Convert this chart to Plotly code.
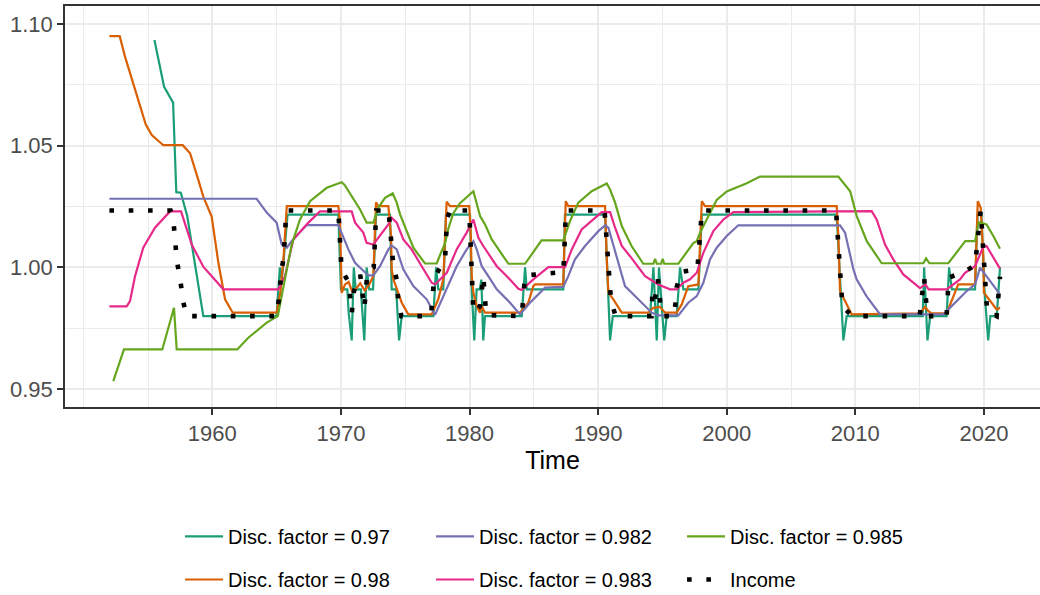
import plotly.graph_objects as go

# ---- Series: (year, value) vertices of each path ----
t_097 = [1955.5, 1956.25, 1956.95, 1957.2, 1957.55, 1958.05, 1959.3, 1965.0, 1965.25, 1965.4, 1965.5,
         1965.85, 1969.8, 1970.0, 1970.5, 1970.6, 1970.84, 1971.0, 1971.15, 1971.55, 1971.82, 1972.0,
         1972.2, 1972.5, 1972.73, 1973.82, 1973.95, 1974.3, 1974.52, 1974.73, 1977.19, 1977.4, 1977.57,
         1977.96, 1978.17, 1980.04, 1980.17, 1980.37, 1980.55, 1980.8, 1980.92, 1981.07, 1981.2, 1984.06,
         1984.32, 1984.45, 1987.29, 1987.42, 1990.54, 1990.75, 1990.93, 1991.14, 1994.04, 1994.3,
         1994.56, 1994.73, 1994.85, 1995.14, 1995.33, 1996.11, 1996.37, 1996.63, 1997.8, 1998.06,
         2008.55, 2008.94, 2009.07, 2009.33, 2015.24, 2015.35, 2015.61, 2015.82, 2017.1, 2017.29,
         2017.5, 2019.31, 2019.5, 2019.8, 2020.05, 2020.33, 2020.5, 2021.0, 2021.25]
v_097 = [1.0934, 1.0742, 1.0677, 1.0309, 1.0307, 1.0211, 0.9800, 0.9800, 1.0000, 0.9950, 1.0000,
         1.0217, 1.0217, 0.9910, 0.9910, 0.9814, 0.9700, 1.0000, 0.9910, 0.9910, 0.9700, 1.0000,
         0.9910, 0.9910, 1.0217, 1.0217, 0.9910, 0.9910, 0.9700, 0.9800, 0.9800, 1.0000, 0.9910,
         0.9910, 1.0217, 1.0217, 0.9910, 0.9700, 0.9910, 0.9910, 0.9950, 0.9700, 0.9800, 0.9800,
         1.0000, 0.9910, 0.9910, 1.0217, 1.0217, 0.9900, 0.9700, 0.9800, 0.9800, 1.0000,
         0.9700, 1.0000, 0.9923, 0.9700, 0.9800, 0.9800, 1.0000, 0.9910, 0.9910, 1.0217,
         1.0217, 0.9855, 0.9700, 0.9800, 0.9800, 1.0000, 0.9700, 0.9800, 0.9800, 1.0000,
         0.9910, 0.9910, 1.0217, 1.0217, 0.9900, 0.9700, 0.9800, 0.9800, 1.0000]

t_098 = [1952.0, 1952.8, 1953.2, 1954.12, 1954.82, 1955.29, 1956.19, 1957.7, 1958.27, 1958.9, 1959.3,
         1959.95, 1960.47, 1960.99, 1961.59, 1965.0, 1965.3, 1965.55, 1965.79, 1969.8, 1969.93, 1970.06,
         1970.32, 1970.6, 1970.85, 1971.1, 1971.5, 1971.85, 1972.2, 1972.52, 1972.73, 1972.9, 1973.69,
         1973.9, 1973.95, 1974.08, 1974.34, 1974.73, 1975.24, 1977.06, 1977.57, 1977.96, 1978.22,
         1978.48, 1979.98, 1980.1, 1980.17, 1980.3, 1980.56, 1980.82, 1980.95, 1981.2, 1983.93,
         1984.57, 1984.96, 1985.09, 1987.29, 1987.48, 1987.68, 1990.54, 1990.67, 1990.8, 1991.18,
         1991.84, 1993.9, 1994.29, 1994.81, 1995.2, 1996.11, 1996.5, 1997.01, 1997.8, 1998.06,
         1998.31, 2008.55, 2008.68, 2008.81, 2009.72, 2015.03, 2015.42, 2015.68, 2015.94, 2017.1,
         2018.0, 2019.31, 2019.52, 2019.75, 2019.95, 2020.0, 2020.47, 2020.99, 2021.25]
v_098 = [1.0950, 1.0950, 1.0868, 1.0704, 1.0588, 1.0544, 1.0502, 1.0502, 1.0469, 1.0362, 1.0291,
         1.0209, 1.0019, 0.9869, 0.9814, 0.9814, 0.9900, 1.0050, 1.0252, 1.0252, 1.0184, 0.9896,
         0.9930, 0.9940, 0.9905, 0.9907, 0.9935, 0.9905, 0.9930, 0.9964, 1.0268, 1.0252, 1.0252,
         1.0129, 0.9992, 0.9951, 0.9910, 0.9855, 0.9807, 0.9807, 0.9869, 0.9951, 1.0270,
         1.0252, 1.0252, 1.0129, 0.9964, 0.9896, 0.9841, 0.9814, 0.9840, 0.9814, 0.9814,
         0.9855, 0.9923, 0.9930, 0.9930, 1.0272, 1.0252, 1.0252, 1.0033, 0.9896, 0.9869,
         0.9814, 0.9814, 0.9834, 0.9838, 0.9814, 0.9814, 0.9848, 0.9923, 0.9930, 1.0272,
         1.0252, 1.0252, 1.0129, 0.9903, 0.9807, 0.9811, 0.9838, 0.9820, 0.9811, 0.9811,
         0.9930, 0.9930, 1.0272, 1.0245, 1.0046, 0.9896, 0.9862, 0.9827, 0.9834]

t_0982 = [1952.0, 1963.45, 1964.23, 1965.0, 1965.4, 1965.79, 1966.17, 1967.34, 1969.8, 1970.1, 1970.58,
          1971.1, 1971.62, 1972.13, 1972.52, 1973.04, 1973.69, 1973.95, 1974.34, 1974.85, 1975.63,
          1976.67, 1977.32, 1978.23, 1979.0, 1979.78, 1980.3, 1980.56, 1980.95, 1981.46, 1982.12,
          1983.15, 1983.93, 1984.7, 1985.87, 1987.29, 1987.68, 1988.2, 1988.98, 1990.02, 1990.54,
          1990.8, 1991.18, 1992.09, 1993.12, 1994.17, 1994.68, 1996.24, 1997.01, 1997.67, 1998.18,
          1998.7, 1999.22, 2000.0, 2000.9, 2008.81, 2009.2, 2009.85, 2010.11, 2010.4, 2010.89,
          2011.93, 2016.85, 2018.66, 2019.31, 2019.7, 2020.21, 2021.25]
v_0982 = [1.0282, 1.0282, 1.0225, 1.0184, 1.0094, 1.0081, 1.0108, 1.0174, 1.0174, 1.0135, 1.0074,
          1.0019, 0.9992, 0.9967, 0.9967, 1.0005, 1.0074, 1.0090, 1.0074, 0.9992, 0.9923,
          0.9869, 0.9805, 0.9910, 1.0005, 1.0074, 1.0108, 1.0074, 1.0005, 0.9964, 0.9910,
          0.9855, 0.9807, 0.9855, 0.9917, 0.9920, 0.9964, 1.0033, 1.0088, 1.0149, 1.0173,
          1.0163, 1.0094, 0.9923, 0.9869, 0.9814, 0.9803, 0.9803, 0.9855, 0.9882, 0.9937,
          1.0033, 1.0081, 1.0129, 1.0173, 1.0173, 1.0143, 0.9992, 0.9950, 0.9923, 0.9880,
          0.9807, 0.9807, 0.9903, 0.9930, 0.9999, 0.9964, 0.9889]

t_0983 = [1952.0, 1953.34, 1953.6, 1953.99, 1954.63, 1955.54, 1956.71, 1957.57, 1958.4, 1959.3, 1960.86,
          1965.13, 1965.65, 1966.3, 1967.47, 1968.37, 1970.84, 1971.1, 1971.74, 1972.0, 1972.52,
          1973.04, 1973.69, 1973.95, 1974.34, 1974.85, 1975.5, 1976.28, 1977.06, 1977.32, 1978.23,
          1979.0, 1979.78, 1980.3, 1980.69, 1981.07, 1981.6, 1982.12, 1982.9, 1983.8, 1984.06,
          1984.96, 1986.13, 1987.43, 1987.95, 1988.72, 1989.63, 1990.28, 1990.93, 1991.32, 1991.84,
          1992.48, 1993.65, 1994.68, 1995.59, 1996.11, 1996.63, 1997.15, 1997.67, 1998.18, 1998.96,
          1999.74, 2000.51, 2011.27, 2011.66, 2012.31, 2012.95, 2013.73, 2015.03, 2015.3, 2015.45,
          2015.7, 2017.1, 2018.14, 2018.53, 2019.31, 2019.95, 2020.2, 2020.86, 2021.25]
v_0983 = [0.9840, 0.9840, 0.9862, 0.9964, 1.0081, 1.0163, 1.0230, 1.0230, 1.0094, 1.0003, 0.9910,
          0.9910, 0.9964, 1.0115, 1.0184, 1.0230, 1.0230, 1.0184, 1.0143, 1.0101, 1.0094,
          1.0129, 1.0177, 1.0204, 1.0184, 1.0115, 1.0074, 1.0005, 0.9937, 0.9930, 0.9978,
          1.0074, 1.0143, 1.0197, 1.0122, 1.0088, 1.0046, 1.0005, 0.9964, 0.9912, 0.9907,
          0.9951, 1.0001, 1.0001, 1.0074, 1.0156, 1.0197, 1.0227, 1.0227, 1.0163, 1.0088,
          1.0046, 0.9964, 0.9930, 0.9910, 0.9910, 0.9937, 0.9951, 0.9978, 1.0060, 1.0149,
          1.0197, 1.0227, 1.0231, 1.0197, 1.0094, 1.0033, 0.9971, 0.9915, 0.9923, 0.9930,
          0.9910, 0.9910, 0.9951, 0.9978, 1.0005, 1.0085, 1.0088, 1.0033, 0.9995]

t_0985 = [1952.3, 1953.13, 1956.11, 1957.02, 1957.23, 1961.94, 1962.8, 1964.23, 1965.09, 1965.65,
          1966.17, 1966.82, 1967.6, 1968.9, 1970.06, 1970.3, 1970.84, 1971.1, 1971.49, 1972.0, 1972.52,
          1972.9, 1973.43, 1974.03, 1974.34, 1974.6, 1975.63, 1976.54, 1977.45, 1977.7, 1978.1,
          1978.36, 1978.74, 1979.26, 1980.3, 1980.82, 1981.2, 1981.73, 1983.02, 1984.32, 1985.6,
          1987.3, 1987.81, 1988.46, 1989.5, 1990.67, 1990.93, 1991.32, 1991.84, 1992.6, 1993.51,
          1994.3, 1994.43, 1994.56, 1994.9, 1995.02, 1995.14, 1996.24, 1997.4, 1997.67, 1997.9,
          1998.57, 1999.22, 2000.0, 2001.56, 2002.59, 2008.68, 2009.6, 2010.11, 2010.89, 2012.05,
          2015.29, 2015.5, 2015.76, 2017.23, 2018.55, 2019.31, 2019.6, 2020.2, 2020.73, 2021.25]
v_0985 = [0.9533, 0.9663, 0.9663, 0.9834, 0.9663, 0.9663, 0.9711, 0.9773, 0.9800, 0.9951,
          1.0094, 1.0197, 1.0272, 1.0327, 1.0350, 1.0338, 1.0293, 1.0266, 1.0238, 1.0184, 1.0184,
          1.0245, 1.0286, 1.0304, 1.0266, 1.0218, 1.0081, 1.0016, 1.0016, 1.0050, 1.0100,
          1.0161, 1.0223, 1.0264, 1.0313, 1.0211, 1.0177, 1.0115, 1.0015, 1.0015, 1.0111,
          1.0111, 1.0190, 1.0266, 1.0313, 1.0345, 1.0320, 1.0266, 1.0170, 1.0088, 1.0015,
          1.0015, 1.0035, 1.0015, 1.0015, 1.0035, 1.0015, 1.0015, 1.0100, 1.0108, 1.0140,
          1.0210, 1.0277, 1.0312, 1.0346, 1.0373, 1.0373, 1.0313, 1.0211, 1.0108, 1.0017,
          1.0017, 1.0037, 1.0017, 1.0017, 1.0108, 1.0108, 1.0186, 1.0177, 1.0129, 1.0077]

t_income = [1952.0, 1956.75, 1957.0, 1957.25, 1957.5, 1957.75, 1958.0, 1965.0, 1965.25, 1965.35, 1965.55,
            1965.75, 1969.8, 1970.05, 1970.6, 1970.85, 1971.0, 1971.5, 1971.82, 1972.06, 1972.55,
            1972.75, 1973.7, 1974.07, 1974.35, 1974.45, 1974.7, 1977.0, 1977.25, 1977.5, 1978.1,
            1978.25, 1978.5, 1979.98, 1980.3, 1980.82, 1981.07, 1981.3, 1984.06, 1984.32, 1987.3,
            1987.5, 1990.5, 1991.0, 1991.37, 1994.15, 1994.22, 1994.4, 1994.55, 1994.65, 1994.85,
            1995.08, 1995.94, 1996.1, 1996.42, 1997.72, 1998.07, 2008.5, 2009.0, 2009.77, 2015.0,
            2015.35, 2015.6, 2017.1, 2017.26, 2018.43, 2019.31, 2019.75, 2020.25, 2020.99, 2021.25]
v_income = [1.0234, 1.0234, 1.0177, 1.0025, 0.9951, 0.9856, 0.9800, 0.9800, 0.9900, 0.9980, 1.0040,
            1.0234, 1.0234, 0.9990, 0.9940, 0.9814, 0.9900, 0.9970, 0.9832, 0.9981, 1.0000,
            1.0234, 1.0234, 1.0012, 0.9947, 0.9869, 0.9800, 0.9800, 0.9955, 0.9981, 1.0036,
            1.0200, 1.0234, 1.0234, 0.9814, 0.9841, 0.9964, 0.9804, 0.9800, 0.9967, 0.9981,
            1.0234, 1.0234, 0.9862, 0.9800, 0.9800, 0.9896, 0.9862, 0.9930, 0.9951, 0.9848,
            0.9800, 0.9800, 0.9917, 0.9981, 0.9992, 1.0234, 1.0234, 0.9839, 0.9800, 0.9800,
            0.9958, 0.9800, 0.9800, 0.9958, 0.9981, 1.0008, 1.0234, 0.9820, 0.9800, 0.9962]

x_ticks = [1960, 1970, 1980, 1990, 2000, 2010, 2020]
y_ticks = [0.95, 1.00, 1.05, 1.10]
y_ticktext = ["0.95", "1.00", "1.05", "1.10"]

FONT = "Liberation Sans, Arial, sans-serif"

# name, x, y, colour, legend box (first or second row)
series = [
    ("Disc. factor = 0.97", t_097, v_097, "#1B9E77", "legend"),
    ("Disc. factor = 0.98", t_098, v_098, "#D95F02", "legend2"),
    ("Disc. factor = 0.982", t_0982, v_0982, "#7570B3", "legend"),
    ("Disc. factor = 0.983", t_0983, v_0983, "#E7298A", "legend2"),
    ("Disc. factor = 0.985", t_0985, v_0985, "#66A61E", "legend"),
]

fig = go.Figure()
for name, xs, ys, col, lg in series:
    fig.add_trace(go.Scatter(x=xs, y=ys, mode="lines", name=name, legend=lg,
                             line=dict(color=col, width=2.2)))

fig.add_trace(go.Scatter(x=t_income, y=v_income, mode="lines", name="Income", legend="legend2",
                         line=dict(color="black", width=4.6, dash="4.6px,14.7px")))

legend_common = dict(orientation="h", xanchor="left", yanchor="top", x=0.118,
                     font=dict(family=FONT, size=20, color="black"),
                     entrywidth=198, entrywidthmode="pixels", itemwidth=38,
                     bgcolor="rgba(0,0,0,0)", traceorder="normal")

fig.update_layout(
    width=1040, height=595,
    margin=dict(l=65, r=0, t=6, b=188, autoexpand=False),
    paper_bgcolor="white", plot_bgcolor="white",
    font=dict(family=FONT),
    legend=dict(y=-0.274, **legend_common),
    legend2=dict(y=-0.3815, **legend_common),
    xaxis=dict(
        range=[1948.545, 2024.36], tickvals=x_ticks, ticks="outside", ticklen=6, tickwidth=1.5,
        tickcolor="#333333", showline=True, linecolor="#333333", linewidth=1.5, mirror=True,
        showgrid=True, gridcolor="#EBEBEB", gridwidth=1.8, zeroline=False,
        minor=dict(dtick=5, tick0=1950, showgrid=True, gridcolor="#EBEBEB", gridwidth=0.9, ticklen=0),
        tickfont=dict(family=FONT, size=22, color="#4D4D4D"),
        title=dict(text="Time", font=dict(family=FONT, size=25, color="black"), standoff=6),
    ),
    yaxis=dict(
        range=[0.94265, 1.1074], tickvals=y_ticks, ticktext=y_ticktext, ticks="outside", ticklen=6,
        tickwidth=1.5, tickcolor="#333333", showline=True, linecolor="#333333", linewidth=1.5,
        mirror=False, showgrid=True, gridcolor="#EBEBEB", gridwidth=1.8, zeroline=False,
        minor=dict(dtick=0.025, tick0=0.95, showgrid=True, gridcolor="#EBEBEB", gridwidth=0.9, ticklen=0),
        tickfont=dict(family=FONT, size=22, color="#4D4D4D"),
    ),
)

fig.write_html("out.html")
